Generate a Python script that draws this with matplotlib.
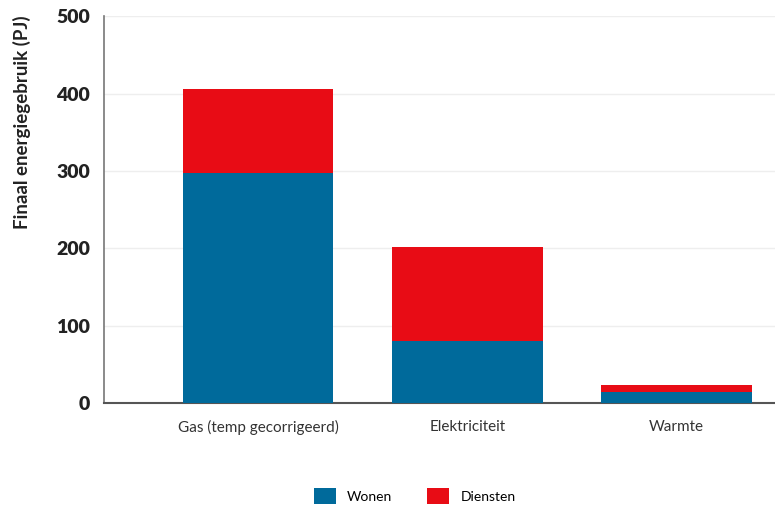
import matplotlib
matplotlib.use("Agg")
import matplotlib.pyplot as plt
import numpy as np

categories = ["Gas (temp gecorrigeerd)", "Elektriciteit", "Warmte"]
wonen = [297, 80, 14]
diensten = [109, 122, 9]
yticks = [0, 100, 200, 300, 400, 500]

blue = "#006A9B"
red = "#E80C15"

plt.rcParams['font.family'] = ['Lato', 'DejaVu Sans']

fig = plt.figure(figsize=(7.75, 5.07), dpi=100)
ax = fig.add_axes([0.134, 0.205, 0.866, 0.763])

x = np.arange(len(categories))
ax.bar(x, wonen, width=0.72, color=blue, label="Wonen", zorder=3)
ax.bar(x, diensten, width=0.72, bottom=wonen, color=red, label="Diensten", zorder=3)

ax.set_xlim(-0.737, 2.47)
ax.set_ylim(0, 500)
ax.set_yticks(yticks)
ax.set_yticklabels([str(v) for v in yticks], fontsize=14, fontweight="heavy", color="#222222")
ax.set_xticks(x)
ax.set_xticklabels(categories, fontsize=11, color="#333333")
ax.tick_params(axis="both", length=0)
ax.tick_params(axis="y", pad=10)
ax.tick_params(axis="x", pad=12)
ax.grid(axis="y", color="#eeeeee", linewidth=1, zorder=0)

for s in ["top", "right"]:
    ax.spines[s].set_visible(False)
ax.spines["left"].set_color("#777777")
ax.spines["bottom"].set_color("#555555")
ax.spines["left"].set_linewidth(1.2)
ax.spines["bottom"].set_linewidth(1.5)

ax.set_ylabel("Finaal energiegebruik (PJ)", fontsize=13.5, fontweight="bold", color="#222222")
ax.yaxis.set_label_coords(-0.108, 0.726)

fig.legend(loc="lower center", bbox_to_anchor=(0.535, -0.018), ncol=2, frameon=False,
           fontsize=10, handlelength=1.6, handleheight=1.3, columnspacing=2.5)

fig.savefig("out.png", dpi=100)
